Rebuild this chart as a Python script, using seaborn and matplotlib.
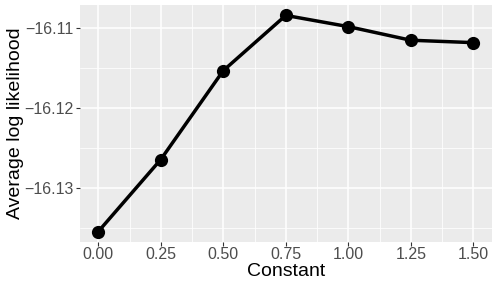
import matplotlib
matplotlib.use("Agg")
import matplotlib.pyplot as plt
import numpy as np
import pandas as pd
import seaborn as sns
from matplotlib.ticker import MultipleLocator

constant = [0.00, 0.25, 0.50, 0.75, 1.00, 1.25, 1.50]
avg_loglik = [-16.1354, -16.1264, -16.1153, -16.1084, -16.1098, -16.1115, -16.1118]
x_ticks = [0.00, 0.25, 0.50, 0.75, 1.00, 1.25, 1.50]
y_ticks = [-16.13, -16.12, -16.11]

df = pd.DataFrame({'Constant': constant, 'Average log likelihood': avg_loglik})

sns.set_theme(style="darkgrid", rc={
    'axes.facecolor': '#EBEBEB',
    'grid.color': 'white',
    'xtick.color': '#333333',
    'ytick.color': '#333333',
    'xtick.labelcolor': '#4D4D4D',
    'ytick.labelcolor': '#4D4D4D',
    'xtick.bottom': True,
    'ytick.left': True,
    'xtick.major.size': 2.75,
    'ytick.major.size': 2.75,
    'xtick.major.width': 0.8,
    'ytick.major.width': 0.8,
    'xtick.major.pad': 0.5,
    'ytick.major.pad': 2,
})
plt.rcParams['font.family'] = ['Liberation Sans', 'DejaVu Sans']

fig = plt.figure(figsize=(4.98, 2.85), dpi=100)
ax = fig.add_axes([80 / 498, 1 - 242 / 285, (492 - 80) / 498, (242 - 5) / 285])

sns.lineplot(data=df, x='Constant', y='Average log likelihood', ax=ax,
             color='black', linewidth=2.5, marker='o', markersize=9.5,
             markeredgewidth=0)

ax.set_xlim(-0.073, 1.575)
ax.set_ylim(-16.1367, -16.1071)
ax.set_xticks(x_ticks)
ax.set_xticklabels([f"{v:.2f}" for v in x_ticks])
ax.set_yticks(y_ticks)
ax.set_yticklabels([f"\u2212{abs(v):.2f}" for v in y_ticks])
ax.xaxis.set_minor_locator(MultipleLocator(0.125))
ax.yaxis.set_minor_locator(MultipleLocator(0.005))
ax.grid(which='major', color='white', linewidth=1.1)
ax.grid(which='minor', color='white', linewidth=0.55)
ax.tick_params(which='minor', length=0)
ax.tick_params(axis='both', labelsize=11.5)
for s in ax.spines.values():
    s.set_visible(False)

ax.set_xlabel('Constant', fontsize=14, color='black')
ax.set_ylabel('Average log likelihood', fontsize=14, color='black')
ax.xaxis.set_label_coords(0.5, -0.088)
ax.yaxis.set_label_coords(-0.136, 0.5)

fig.savefig('out.png', dpi=100)
